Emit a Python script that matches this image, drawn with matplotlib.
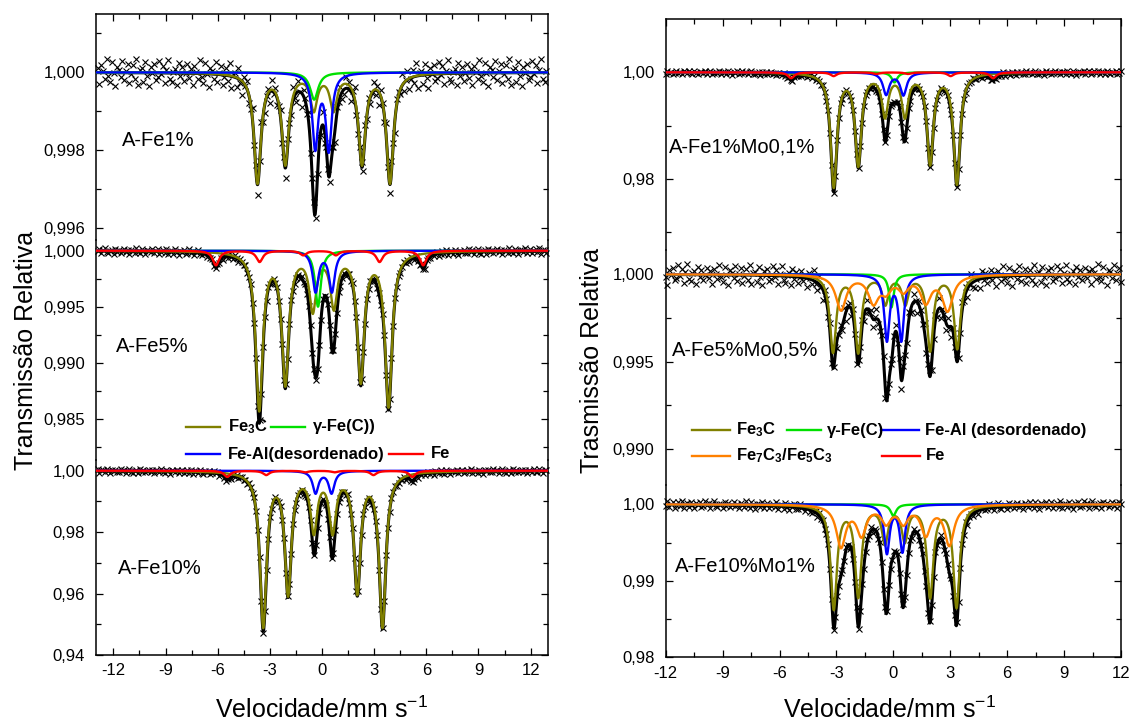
import numpy as np
import matplotlib.pyplot as plt
from matplotlib.lines import Line2D
from matplotlib.ticker import MultipleLocator, FuncFormatter

plt.rcParams['font.family'] = ['Liberation Sans', 'DejaVu Sans']
plt.rcParams['mathtext.fontset'] = 'custom'
plt.rcParams['mathtext.rm'] = 'Liberation Sans'
plt.rcParams['mathtext.bf'] = 'Liberation Sans:bold'
plt.rcParams['mathtext.it'] = 'Liberation Sans:italic'
plt.rcParams['axes.unicode_minus'] = False

W, H = 1130, 724

OLIVE = '#808000'
GREEN = '#00e000'
BLUE = '#0000ff'
RED = '#ff0000'
ORANGE = '#ff8000'

# sample labels
samples_left = ['A-Fe1%', 'A-Fe5%', 'A-Fe10%']
samples_right = ['A-Fe1%Mo0,1%', 'A-Fe5%Mo0,5%', 'A-Fe10%Mo1%']

# fitted subspectra:
# (line positions in mm/s, line depths, half width at half maximum)
fe1_fe3c = ([-3.71, -2.11, -0.47, 0.66, 2.30, 3.91], [0.0028, 0.0023, 0.0009, 0.0009, 0.0023, 0.0028], 0.24)
fe1_gfe = ([-0.45], [0.0007], 0.28)
fe1_feal = ([-0.39, 0.39], [0.0019, 0.00195], 0.20)

fe5_fe3c = ([-3.61, -2.11, -0.53, 0.68, 2.23, 3.83], [0.0140, 0.0116, 0.0050, 0.0047, 0.0114, 0.0137], 0.24)
fe5_gfe = ([-0.23], [0.0050], 0.20)
fe5_feal = ([-0.37, 0.57], [0.0036, 0.0036], 0.20)
fe5_fe = ([-6.10, -3.59, -1.08, 0.80, 3.31, 5.82], [0.0013, 0.0010, 0.0004, 0.0004, 0.0010, 0.0013], 0.22)

fe10_fe3c = ([-3.38, -1.95, -0.47, 0.61, 2.03, 3.48], [0.050, 0.039, 0.0185, 0.0185, 0.0385, 0.050], 0.23)
fe10_feal = ([-0.37, 0.55], [0.0072, 0.0072], 0.20)
fe10_fe = ([-5.45, -3.21, -0.96, 0.72, 2.96, 5.20], [0.0020, 0.0014, 0.0005, 0.0005, 0.0014, 0.0020], 0.22)

mo1_fe3c = ([-3.14, -1.85, -0.44, 0.61, 1.94, 3.35], [0.0212, 0.0170, 0.0078, 0.0078, 0.0168, 0.0207], 0.20)
mo1_gfe = ([0.06], [0.0019], 0.18)
mo1_feal = ([-0.38, 0.53], [0.0041, 0.0042], 0.20)
mo1_fe = ([-5.39, -3.15, -0.90, 0.77, 3.02, 5.26], [0.0011, 0.0007, 0.0003, 0.0003, 0.0007, 0.0011], 0.20)

mo5_fe3c = ([-3.18, -1.85, -0.42, 0.63, 1.94, 3.37], [0.0044, 0.0044, 0.0016, 0.0016, 0.0043, 0.0042], 0.20)
mo5_gfe = ([-0.10], [0.0019], 0.15)
mo5_feal = ([-0.34, 0.42], [0.0037, 0.0037], 0.17)
mo5_fe7c3 = ([-2.76, -1.05, -0.38, 0.53, 1.71, 2.86], [0.0020, 0.0015, 0.0008, 0.0008, 0.0015, 0.0020], 0.33)

mo10_fe3c = ([-3.14, -1.85, -0.44, 0.60, 1.94, 3.33], [0.0135, 0.0118, 0.0048, 0.0045, 0.0119, 0.0133], 0.20)
mo10_gfe = ([0.0], [0.0015], 0.18)
mo10_feal = ([-0.34, 0.48], [0.0063, 0.0061], 0.17)
mo10_fe7c3 = ([-2.76, -1.68, -0.38, 0.53, 1.71, 2.95], [0.0054, 0.0038, 0.0022, 0.0022, 0.0038, 0.0052], 0.30)

# scatter of the measured points around the fit (estimated, in units of noise level)
residuals = [0.3, -0.8, 0.5, 0.1, -0.4, 0.9, -0.2, -0.6, 0.7, 0.0, -0.9, 0.4, 0.2, -0.3,
             0.8, -0.5, 0.1, 0.6, -0.7, -0.1, 0.5, -0.4, 0.9, -0.8, 0.2, 0.3, -0.6, 0.7,
             -0.2, -0.9, 0.4, 0.0, 0.6, -0.5, -0.3, 0.8, -0.1, 0.5, -0.7, 0.2, 0.9, -0.4,
             -0.6, 0.1, 0.3, -0.8, 0.7, -0.2, 0.4, -0.5, 0.0, 0.6, -0.3]
noise_left = [0.00038, 0.00030, 0.0008]
noise_right = [0.00040, 0.00065, 0.00055]


def absorption(v, comp):
    pos, dep, hw = comp
    out = np.zeros_like(v)
    for p, d in zip(pos, dep):
        out += d * hw ** 2 / ((v - p) ** 2 + hw ** 2)
    return out


def comma_fmt(dec):
    return FuncFormatter(lambda val, pos: f'{val:.{dec}f}'.replace('.', ','))


fig = plt.figure(figsize=(W / 100, H / 100), dpi=100)


def add_panel(x0, x1, y0, y1):
    ax = fig.add_axes([x0 / W, 1 - y1 / H, (x1 - x0) / W, (y1 - y0) / H])
    ax.patch.set_visible(False)
    return ax


def draw_panel(ax, xlim, v_data, comps, noise, shift, ylim, major, minor, dec, pos):
    v_fine = np.linspace(xlim[0], xlim[1], 2000)
    total_d = sum(absorption(v_data, c) for _, c in comps)
    total_f = sum(absorption(v_fine, c) for _, c in comps)
    scat = np.resize(np.roll(residuals, shift), len(v_data))
    ax.plot(v_data, 1 - total_d + noise * scat, 'x', color='black', ms=4.5, mew=0.8,
            clip_on=False, zorder=1)
    ax.plot(v_fine, 1 - total_f, color='black', lw=2.2, zorder=2)
    for color, c in comps:
        ax.plot(v_fine, 1 - absorption(v_fine, c), color=color, lw=1.7, zorder=3)
    ax.set_xlim(*xlim)
    ax.set_ylim(*ylim)
    ax.yaxis.set_major_locator(MultipleLocator(major))
    ax.yaxis.set_minor_locator(MultipleLocator(minor))
    ax.yaxis.set_major_formatter(comma_fmt(dec))
    ax.xaxis.set_major_locator(MultipleLocator(3))
    ax.xaxis.set_minor_locator(MultipleLocator(1.5))
    ax.tick_params(which='both', direction='in', left=True, right=True, width=0.9,
                   top=(pos == 'top'), bottom=(pos == 'bottom'),
                   labelbottom=(pos == 'bottom'), labelsize=12)
    ax.tick_params(axis='y', which='both', pad=8)
    ax.tick_params(axis='x', which='both', pad=6)
    ax.tick_params(which='major', length=5.3)
    ax.tick_params(which='minor', length=3.3)
    for s in ax.spines.values():
        s.set_linewidth(1.1)
    if pos != 'top':
        ax.spines['top'].set_visible(False)
    if pos != 'bottom':
        ax.spines['bottom'].set_visible(False)


# left column
xl = (-13, 13)
vl = np.linspace(-12.9, 12.9, 256)
ax1 = add_panel(96, 548, 14.3, 240)
draw_panel(ax1, xl, vl, [(OLIVE, fe1_fe3c), (GREEN, fe1_gfe), (BLUE, fe1_feal)],
           noise_left[0], 0, (0.99570, 1.00149), 0.002, 0.001, 3, 'top')
ax2 = add_panel(96, 548, 240, 460)
draw_panel(ax2, xl, vl, [(OLIVE, fe5_fe3c), (GREEN, fe5_gfe), (BLUE, fe5_feal), (RED, fe5_fe)],
           noise_left[1], 17, (0.98131, 1.000955), 0.005, 0.0025, 3, 'mid')
ax3 = add_panel(96, 548, 460, 655)
draw_panel(ax3, xl, vl, [(OLIVE, fe10_fe3c), (BLUE, fe10_feal), (RED, fe10_fe)],
           noise_left[2], 31, (0.94, 1.00349), 0.02, 0.01, 2, 'bottom')

# right column
xr = (-12, 12)
vr = np.linspace(-12, 12, 256)
ax4 = add_panel(665.7, 1121, 19.3, 250)
draw_panel(ax4, xr, vr, [(OLIVE, mo1_fe3c), (GREEN, mo1_gfe), (BLUE, mo1_feal), (RED, mo1_fe)],
           noise_right[0], 8, (0.96668, 1.00994), 0.02, 0.01, 2, 'top')
ax5 = add_panel(665.7, 1121, 250, 485)
draw_panel(ax5, xr, vr, [(OLIVE, mo5_fe3c), (GREEN, mo5_gfe), (BLUE, mo5_feal), (ORANGE, mo5_fe7c3)],
           noise_right[1], 25, (0.98793, 1.00139), 0.005, 0.0025, 3, 'mid')
ax6 = add_panel(665.7, 1121, 485, 657.3)
draw_panel(ax6, xr, vr, [(OLIVE, mo10_fe3c), (GREEN, mo10_gfe), (BLUE, mo10_feal), (ORANGE, mo10_fe7c3)],
           noise_right[2], 40, (0.98, 1.00252), 0.01, 0.005, 2, 'bottom')

# sample names
for name, (x, y) in zip(samples_left, [(122, 141), (116, 347), (118, 568)]):
    fig.text(x / W, 1 - y / H, name, fontsize=14.5, ha='left', va='center')
for name, (x, y) in zip(samples_right, [(669, 147), (672, 350), (675, 567)]):
    fig.text(x / W, 1 - y / H, name, fontsize=14.5, ha='left', va='center')

# axis titles
fig.text(26 / W, 1 - 350 / H, 'Transmissão Relativa', rotation=90, fontsize=18,
         ha='center', va='center')
fig.text(592 / W, 1 - 360 / H, 'Trasmissão Relativa', rotation=90, fontsize=18,
         ha='center', va='center')
fig.text(322 / W, 1 - 710 / H, 'Velocidade/mm s$^{-1}$', fontsize=18, ha='center', va='center')
fig.text(890 / W, 1 - 710 / H, 'Velocidade/mm s$^{-1}$', fontsize=18, ha='center', va='center')


# legends, drawn entry by entry
def legend_entry(x, y, color, label, hlen=34, gap=8):
    fig.add_artist(Line2D([x / W, (x + hlen) / W], [1 - y / H, 1 - y / H],
                          color=color, lw=1.7, transform=fig.transFigure))
    fig.text((x + hlen + gap) / W, 1 - y / H, label, fontsize=12, fontweight='bold',
             ha='left', va='center')


legend_entry(186, 427, OLIVE, r'Fe$_\mathbf{3}$C')
legend_entry(271, 427, GREEN, 'γ-Fe(C))')
legend_entry(186, 454, BLUE, 'Fe-Al(desordenado)')
legend_entry(389, 454, RED, 'Fe')

legend_entry(692, 430, OLIVE, r'Fe$_\mathbf{3}$C', hlen=38, gap=6)
legend_entry(787, 430, GREEN, 'γ-Fe(C)', hlen=34, gap=6)
legend_entry(881, 430, BLUE, 'Fe-Al (desordenado)', hlen=38, gap=6)
legend_entry(692, 456, ORANGE, r'Fe$_\mathbf{7}$C$_\mathbf{3}$/Fe$_\mathbf{5}$C$_\mathbf{3}$', hlen=38, gap=6)
legend_entry(882, 456, RED, 'Fe', hlen=38, gap=6)

fig.savefig('out.png', dpi=100)
